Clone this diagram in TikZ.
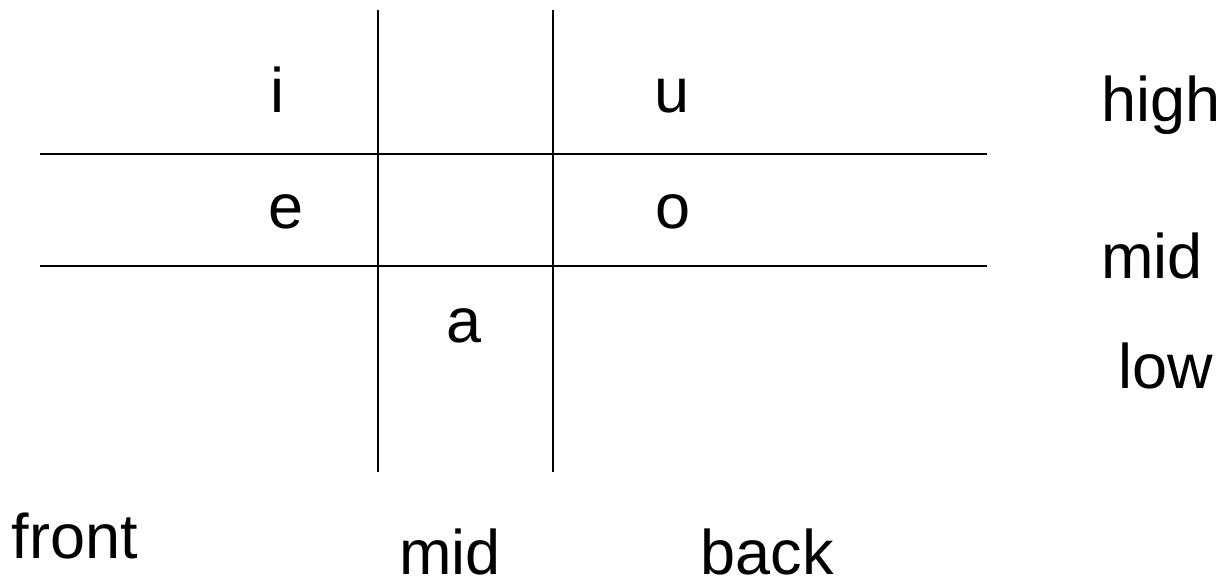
\documentclass[tikz,border=0pt]{standalone}
\usepackage{fontspec}
\setmainfont{Liberation Sans}
\begin{document}
\begin{tikzpicture}[x=1pt,y=-1pt,
  grid/.style={line width=1.6pt,black},
  lbl/.style={anchor=base,inner sep=0pt,font=\fontsize{63}{66}\selectfont}]
\useasboundingbox (0,0) rectangle (1228,581);
\coordinate (v1t) at (378,10); \coordinate (v1b) at (378,472);
\coordinate (v2t) at (553,10); \coordinate (v2b) at (553,472);
\coordinate (h1l) at (40,154); \coordinate (h1r) at (987,154);
\coordinate (h2l) at (40,266); \coordinate (h2r) at (987,266);
\draw[grid] (v1t) -- (v1b);
\draw[grid] (v2t) -- (v2b);
\draw[grid] (h1l) -- (h1r);
\draw[grid] (h2l) -- (h2r);
\node[lbl] (i) at (277,112) {i};
\node[lbl] (u) at (672,112) {u};
\node[lbl] (high) at (1161,121) {high};
\node[lbl] (e) at (286,228) {e};
\node[lbl] (o) at (673,228) {o};
\node[lbl] (midr) at (1152,278) {mid};
\node[lbl] (a) at (464,342) {a};
\node[lbl] (low) at (1166,388) {low};
\node[lbl] (front) at (75,558) {front};
\node[lbl] (midb) at (450,574) {mid};
\node[lbl] (back) at (767,574) {back};
\end{tikzpicture}
\end{document}
